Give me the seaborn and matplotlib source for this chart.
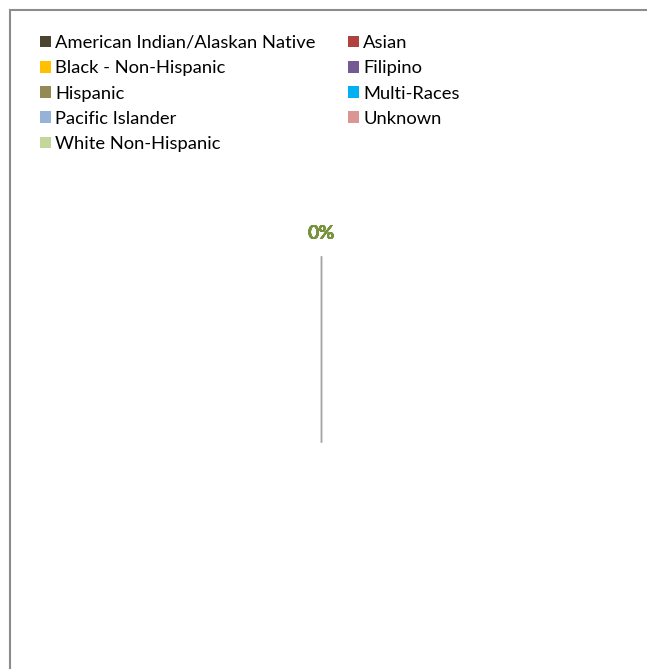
import numpy as np
import seaborn as sns
import matplotlib.pyplot as plt
from matplotlib.patches import Patch, Rectangle

# --- dane ---
categories = [
    "American Indian/Alaskan Native", "Asian", "Black - Non-Hispanic",
    "Filipino", "Hispanic", "Multi-Races", "Pacific Islander",
    "Unknown", "White Non-Hispanic",
]
values = [0, 0, 0, 0, 0, 0, 0, 0, 0]
colors = ["#4a4531", "#b0413e", "#ffc000", "#735a95", "#948a54",
          "#00b0f0", "#95b3d7", "#d99694", "#c4d79b"]

sns.set_style("white")
plt.rcParams["font.family"] = ["Lato", "DejaVu Sans"]

W, H = 647, 669
fig = plt.figure(figsize=(W / 100, H / 100), dpi=100)

# ramka wykresu
fig.patches.append(Rectangle((10 / W, -0.1), 1.2, 1 - 10 / H + 0.1,
                             transform=fig.transFigure, fill=False,
                             edgecolor="#8c8c8c", linewidth=1.5))

# --- kolo ---
cx, cy, R = 321, 442, 186
ax = fig.add_axes([(cx - R) / W, 1 - (cy + R) / H, 2 * R / W, 2 * R / H])
ax.set_xlim(-1, 1)
ax.set_ylim(-1, 1)
ax.axis("off")

vals = np.array(values, dtype=float)
total = vals.sum()
fracs = vals / total if total > 0 else np.zeros_like(vals)
start = 90.0
cum = np.cumsum(fracs)
for i, f in enumerate(fracs):
    ang = np.deg2rad(start - 360 * (cum[i] - f / 2))
    ax.plot([0, np.cos(ang)], [0, np.sin(ang)], color="#a6a6a6", lw=0.8)
    ax.text(1.12 * np.cos(ang), 1.12 * np.sin(ang), f"{f * 100:.0f}%",
            ha="center", va="center", fontsize=14, fontweight="bold",
            color="#77933c")

# --- legenda ---
handles = [Patch(facecolor=c, edgecolor="none") for c in colors]
order = [0, 2, 4, 6, 8, 1, 3, 5, 7]
fig.legend([handles[i] for i in order], [categories[i] for i in order],
           ncol=2, loc="upper left", bbox_to_anchor=(39.5 / W, 1 - 35 / H),
           frameon=False, fontsize=13.2, labelcolor="black",
           handlelength=0.6, handleheight=0.6,
           handletextpad=0.25, labelspacing=0.505, columnspacing=1.75,
           borderpad=0, borderaxespad=0)

fig.savefig("out.png", dpi=100)
